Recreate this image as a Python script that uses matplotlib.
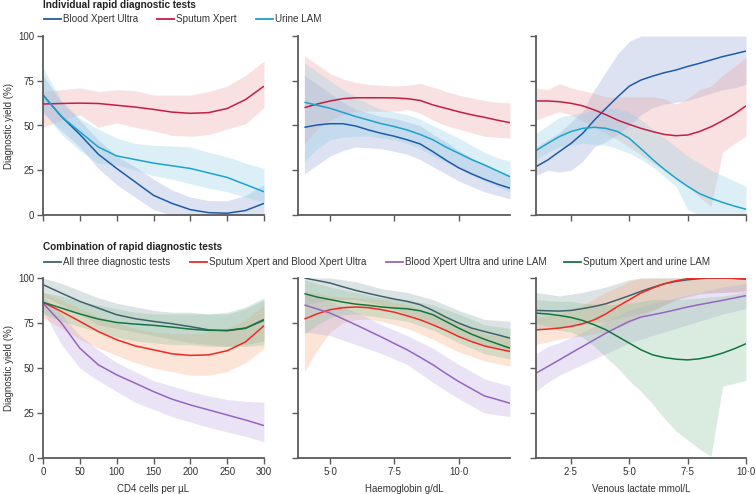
import matplotlib
matplotlib.use("Agg")
import matplotlib.pyplot as plt
from matplotlib.lines import Line2D

plt.rcParams["font.family"] = ["Liberation Sans Narrow", "Liberation Sans", "DejaVu Sans"]

# ---- data ---------------------------------------------------------------
# x grids
cd4 = [0, 25, 50, 75, 100, 125, 150, 175, 200, 225, 250, 275, 300]
hb = [4, 4.5, 5, 5.5, 6, 6.5, 7, 7.5, 8, 8.5, 9, 9.5, 10, 10.5, 11, 11.5, 12]
lac = [1, 1.5, 2, 2.5, 3, 3.5, 4, 4.5, 5, 5.5, 6, 6.5, 7, 7.5, 8, 8.5, 9, 9.5, 10]

# individual tests vs CD4
blood_cd4 = [67, 55, 45, 34, 26, 18.5, 11, 6.5, 3, 1.3, 1, 2.5, 6.5]
blood_cd4_lo = [57, 47, 38, 26, 17, 10, 3, 0, 0, 0, 0, 0, 0]
blood_cd4_hi = [78, 63, 53, 42, 33, 27, 20, 14, 10, 8, 8, 11, 17]
sputum_cd4 = [62, 62.3, 62.5, 62.3, 61.3, 60.3, 59, 57.5, 56.8, 57.2, 59.5, 64.5, 72]
sputum_cd4_lo = [49, 53, 56, 49, 51.5, 49, 47, 44.5, 44, 45, 48, 51, 60]
sputum_cd4_hi = [69, 70, 71, 69, 70, 69.5, 67, 67, 67, 69, 72, 78, 86]
urine_cd4 = [67, 55, 46.5, 38, 33, 31, 29, 27.5, 26, 23.5, 21, 17, 13]
urine_cd4_lo = [58, 45, 36, 29, 28, 25, 22, 20, 17.5, 15, 13, 10, 7]
urine_cd4_hi = [82, 64, 54, 48, 43, 40, 39, 38.5, 38, 35, 32.5, 29, 26]

# individual tests vs haemoglobin
blood_hb = [49, 50.3, 51, 51, 49.7, 47.5, 45.6, 44, 42, 39.7, 35.4, 30.7, 26.4, 23, 20, 17.3, 15]
blood_hb_lo = [23, 28, 33, 36, 38, 37.5, 37, 35.5, 34, 31, 27, 23, 19, 16, 13, 11, 9]
blood_hb_hi = [78, 73, 68, 63, 59, 57, 55, 54, 52, 50, 45, 41, 36, 32, 28, 25, 22]
sputum_hb = [60, 62, 63.7, 65, 65.5, 65.5, 65.5, 65.4, 65, 64, 61.5, 59.6, 57.7, 56, 54.6, 53, 51.6]
sputum_hb_lo = [40, 48, 53, 56, 58, 58, 58, 58, 59, 57, 53, 50, 48, 46, 44, 43.5, 43]
sputum_hb_hi = [89, 84, 79, 76, 74, 73, 72.5, 72, 72.5, 73.5, 71.5, 69, 67, 65.5, 64, 63, 62.7]
urine_hb = [63, 61.3, 59.6, 57.3, 55, 53, 51, 49.4, 47.5, 45, 42, 38, 34.5, 31, 28, 24.7, 21.4]
urine_hb_lo = [30, 37, 42, 43.5, 44, 44, 43, 42, 40, 37, 33, 29.5, 26, 22.5, 19, 16, 13]
urine_hb_hi = [85, 80, 75, 70, 66, 62, 59, 57.5, 56, 53.5, 50, 46.5, 43, 39, 35, 32, 30]

# individual tests vs venous lactate
blood_lac = [27, 30.7, 35.4, 40, 45.6, 53, 59.6, 66, 72, 75.4, 77.6, 79.5, 81, 83, 84.7, 86.6, 88.5, 90, 91.6]
blood_lac_lo = [22, 25, 24, 25, 30, 38, 41, 45, 50, 56, 60, 62, 63, 64, 66, 68, 70, 71, 73]
blood_lac_hi = [38, 42, 46, 52, 58, 70, 80, 90, 97, 100, 100, 100, 100, 100, 100, 100, 100, 100, 100]
sputum_lac = [63.7, 63.7, 63.3, 62.4, 61, 58.7, 56, 53, 50.6, 48.4, 46.6, 45, 44.3, 44.7, 46.6, 49.3, 52.7, 56.4, 61]
sputum_lac_lo = [53, 55.5, 57.7, 56, 52.5, 49, 45.5, 42, 38, 33.5, 29, 25, 20.5, 15.8, 10, 4.7, 35, 40, 44]
sputum_lac_hi = [71, 70, 73.5, 71, 69.5, 68, 66, 66, 66, 66, 66, 65, 62, 65, 70, 72, 78, 83, 88]
urine_lac = [36, 40, 43.8, 46.6, 48.4, 49, 48.4, 46.6, 42.8, 37, 31, 25.5, 20.5, 16, 12, 9.3, 7, 5, 3.2]
urine_lac_lo = [31, 35, 38, 39, 40, 39.5, 39, 37, 34.5, 31, 27, 21.5, 16, 3, 0, 0, 0, 0, 0]
urine_lac_hi = [45.6, 50, 54.6, 56, 57, 59, 60, 59.5, 57.5, 53, 48, 43, 38, 33, 29, 25, 22, 19, 16]

# combinations vs CD4
all3_cd4 = [96.3, 91.6, 87, 83.3, 79.6, 77.4, 75.9, 74.6, 73, 71.2, 70.7, 72, 77]
all3_cd4_lo = [90, 85, 80, 74, 72, 70, 68, 66, 64, 63, 62, 63, 65]
all3_cd4_hi = [100, 97, 93, 89, 86, 84, 82, 81, 81, 80, 80, 83, 88]
spbl_cd4 = [86.5, 81.4, 75.9, 70.3, 65.7, 62.3, 60.1, 57.9, 57, 57.3, 59.6, 64.5, 73.5]
spbl_cd4_lo = [78, 72, 66, 61, 57, 53, 50, 48, 46, 46, 48, 53, 61]
spbl_cd4_hi = [92, 88, 83, 79, 75, 72, 70, 69, 69, 70, 72, 77, 85]
blur_cd4 = [86, 75, 61, 51.8, 46.2, 41.6, 36.9, 32.7, 29.5, 26.7, 23.9, 21.1, 18]
blur_cd4_lo = [82, 63, 50, 43, 37, 31, 27, 23, 20, 17, 14.5, 12, 9]
blur_cd4_hi = [90, 80, 68, 60, 53, 48, 43, 40, 37, 34.5, 32.5, 31.5, 31]
spur_cd4 = [86.5, 83.3, 80, 77.2, 75.3, 74.4, 73.7, 72.7, 71.6, 70.9, 70.9, 72.2, 76.5]
spur_cd4_lo = [80, 76, 73, 70, 67, 65, 64, 63, 63, 62, 62, 62, 63]
spur_cd4_hi = [92, 90, 87, 85, 83, 81, 80, 80, 80, 80, 81, 84, 89]

# combinations vs haemoglobin
all3_hb = [100, 98.6, 97.2, 95.1, 93.1, 91.4, 89.8, 88.3, 87, 85.2, 82, 78.3, 75, 72.2, 70.3, 68.5, 66.6]
all3_hb_lo = [85, 86.5, 88, 88, 88, 86.5, 85, 82.5, 80, 77.5, 75, 71.5, 68, 65.5, 63, 61.5, 60]
all3_hb_hi = [100, 100, 100, 99, 98, 96, 94, 93, 92, 90, 88, 85, 82, 79.5, 77, 76.5, 76]
spbl_hb = [77.2, 80.1, 82.4, 83.5, 83.9, 83.5, 82.4, 81, 79, 76.8, 74, 70.9, 67.5, 64.7, 62.3, 60.7, 59.2]
spbl_hb_lo = [48, 60, 70, 75, 77, 77, 76, 74, 72, 69, 66, 62.5, 59, 56.5, 54, 52.5, 51]
spbl_hb_hi = [93, 91.5, 90, 89.5, 89, 88.5, 88, 86.5, 85, 83, 81, 78, 75, 72, 69, 68, 67]
blur_hb = [85, 82.8, 80.5, 77.3, 74, 70.6, 67.2, 63.6, 60.1, 56, 51.8, 47, 42.5, 38.5, 34.5, 32.5, 30.4]
blur_hb_lo = [70, 69, 68, 65.5, 63, 60.5, 58, 55, 52, 47, 42, 37.5, 33, 29, 25, 24, 23]
blur_hb_hi = [91, 89, 87, 84, 81, 77.5, 74, 71, 68, 64.5, 61, 56.5, 52, 48, 44, 42, 40]
spur_hb = [91.3, 89.4, 88, 86.6, 85.5, 84.8, 83.9, 83.3, 82.9, 81.8, 79.6, 75.9, 72.2, 68.8, 66, 63.5, 61]
spur_hb_lo = [69, 74, 78, 79.5, 80, 79, 78, 77, 76, 73.5, 71, 67.5, 64, 61, 58, 56.5, 55]
spur_hb_hi = [99, 97, 95, 93.5, 92, 90.5, 89, 88.5, 88, 86.5, 85, 82.5, 80, 77, 74, 73, 72]

# combinations vs venous lactate
all3_lac = [82, 81.8, 81.6, 82, 83, 84.2, 85.7, 87.9, 90.2, 92.6, 94.8, 96.8, 98.1, 99, 99.6, 100, 100, 99.8, 99.4]
all3_lac_lo = [72, 72, 72, 73, 74, 75, 76, 77.5, 79, 80.5, 82, 85, 88, 89.5, 91, 91.5, 92, 92.5, 93]
all3_lac_hi = [92, 91, 90, 91, 92, 93.5, 95, 97, 99, 100, 100, 100, 100, 100, 100, 100, 100, 100, 100]
spbl_lac = [71.2, 71.6, 72.2, 73.1, 74.6, 76.8, 80.1, 84.2, 87.9, 91.7, 94.4, 96.8, 98.5, 99.6, 100, 100, 100, 99.8, 99.4]
spbl_lac_lo = [63, 64.5, 66, 67, 68, 69, 70, 72.5, 75, 78.5, 82, 85, 88, 90, 92, 92, 92, 92, 92]
spbl_lac_hi = [78, 79, 80, 82.5, 85, 88.5, 92, 95, 98, 100, 100, 100, 100, 100, 100, 100, 100, 100, 100]
blur_lac = [47.1, 50.8, 54.5, 58.3, 62, 65.7, 69.4, 72.7, 75.9, 78.3, 79.6, 80.9, 82.4, 83.9, 85.2, 86.4, 87.6, 88.9, 90.2]
blur_lac_lo = [37, 42, 46, 49, 52, 55, 58, 61, 64, 66, 68, 70, 72, 74, 76, 78, 80, 81.5, 83]
blur_lac_hi = [58, 62, 64, 67, 70, 73, 76, 79, 82, 84, 86, 87.5, 89, 90.5, 92, 93.5, 95, 96, 97]
spur_lac = [80.5, 80, 79.2, 78.1, 76.4, 74, 71.2, 67.5, 63.8, 60.1, 57.3, 55.8, 54.9, 54.5, 55.1, 56.4, 58.3, 60.7, 63.5]
spur_lac_lo = [75, 73, 71, 70, 67, 62, 56, 50, 43, 37, 30, 22, 15, 10, 5, 1, 40, 41.5, 43]
spur_lac_hi = [88, 87.5, 87, 87, 86, 85.5, 85, 85.5, 86, 87, 88, 88, 88, 88.5, 89, 89.5, 90, 91, 92]

x_ticks_cd4 = [0, 50, 100, 150, 200, 250, 300]
x_ticks_hb = [5, 7.5, 10]
x_ticks_lac = [2.5, 5, 7.5, 10]
y_ticks = [0, 25, 50, 75, 100]

# ---- styling ---------------------------------------------------------------
W, H = 756, 494
C_BLOOD, C_SPUT, C_URINE = "#1f5ba8", "#c41e45", "#1aa3cc"
B_BLOOD, B_SPUT, B_URINE = "#95a5d8", "#eba3a0", "#93cfe8"
C_ALL3, C_SPBL, C_BLUR, C_SPUR = "#41616e", "#ee2a24", "#9466c0", "#12773f"
B_ALL3, B_SPBL, B_BLUR, B_SPUR = "#93a9ad", "#f7ab80", "#bbaae0", "#8cc39d"
SPINE = "#5a5a5a"
TXT = "#333333"


def px(x0, y0, x1, y1):
    """pixel box (left, top, right, bottom) -> figure fraction rect."""
    return [x0 / W, 1 - y1 / H, (x1 - x0) / W, (y1 - y0) / H]


def fmt(v):
    return f"{v:.1f}".replace(".", "\u00b7")


def style(ax, xlim, xticks, show_xlabels, show_ylabels, int_ticks=False):
    ax.set_xlim(*xlim)
    ax.set_ylim(0, 100)
    for s in ("top", "right"):
        ax.spines[s].set_visible(False)
    for s in ("left", "bottom"):
        ax.spines[s].set_color(SPINE)
        ax.spines[s].set_linewidth(1.3)
    ax.set_xticks(xticks)
    ax.set_yticks(y_ticks)
    ax.tick_params(direction="out", length=4.5, width=1.0, color=SPINE,
                   labelsize=7, labelcolor=TXT, pad=2)
    if show_xlabels:
        ax.set_xticklabels([str(t) if int_ticks else fmt(t) for t in xticks])
    else:
        ax.set_xticklabels([])
    if not show_ylabels:
        ax.set_yticklabels([])
    ax.patch.set_alpha(0)


def draw(ax, x, series):
    for _, _, lo, hi, band in series:
        ax.fill_between(x, lo, hi, color=band, alpha=0.32, lw=0)
    for y, col, _, _, _ in series:
        ax.plot(x, y, color=col, lw=1.1, solid_capstyle="butt")


fig = plt.figure(figsize=(W / 100, H / 100), dpi=100)

cols = [(43, 264), (298, 510), (536, 746)]
rows = [(36, 215), (278, 458)]
xlims = [(0, 300), (3.75, 12), (1, 10)]
xs = [cd4, hb, lac]
xticks = [x_ticks_cd4, x_ticks_hb, x_ticks_lac]

top = [
    [(blood_cd4, C_BLOOD, blood_cd4_lo, blood_cd4_hi, B_BLOOD),
     (sputum_cd4, C_SPUT, sputum_cd4_lo, sputum_cd4_hi, B_SPUT),
     (urine_cd4, C_URINE, urine_cd4_lo, urine_cd4_hi, B_URINE)],
    [(blood_hb, C_BLOOD, blood_hb_lo, blood_hb_hi, B_BLOOD),
     (sputum_hb, C_SPUT, sputum_hb_lo, sputum_hb_hi, B_SPUT),
     (urine_hb, C_URINE, urine_hb_lo, urine_hb_hi, B_URINE)],
    [(blood_lac, C_BLOOD, blood_lac_lo, blood_lac_hi, B_BLOOD),
     (sputum_lac, C_SPUT, sputum_lac_lo, sputum_lac_hi, B_SPUT),
     (urine_lac, C_URINE, urine_lac_lo, urine_lac_hi, B_URINE)],
]
bottom = [
    [(all3_cd4, C_ALL3, all3_cd4_lo, all3_cd4_hi, B_ALL3),
     (spbl_cd4, C_SPBL, spbl_cd4_lo, spbl_cd4_hi, B_SPBL),
     (blur_cd4, C_BLUR, blur_cd4_lo, blur_cd4_hi, B_BLUR),
     (spur_cd4, C_SPUR, spur_cd4_lo, spur_cd4_hi, B_SPUR)],
    [(all3_hb, C_ALL3, all3_hb_lo, all3_hb_hi, B_ALL3),
     (spbl_hb, C_SPBL, spbl_hb_lo, spbl_hb_hi, B_SPBL),
     (blur_hb, C_BLUR, blur_hb_lo, blur_hb_hi, B_BLUR),
     (spur_hb, C_SPUR, spur_hb_lo, spur_hb_hi, B_SPUR)],
    [(all3_lac, C_ALL3, all3_lac_lo, all3_lac_hi, B_ALL3),
     (spbl_lac, C_SPBL, spbl_lac_lo, spbl_lac_hi, B_SPBL),
     (blur_lac, C_BLUR, blur_lac_lo, blur_lac_hi, B_BLUR),
     (spur_lac, C_SPUR, spur_lac_lo, spur_lac_hi, B_SPUR)],
]
xlabels = ["CD4 cells per \u00b5L", "Haemoglobin g/dL", "Venous lactate mmol/L"]

for r, (y0, y1) in enumerate(rows):
    data = top if r == 0 else bottom
    for c, (x0, x1) in enumerate(cols):
        ax = fig.add_axes(px(x0, y0, x1, y1))
        draw(ax, xs[c], data[c])
        style(ax, xlims[c], xticks[c], show_xlabels=(r == 1),
              show_ylabels=(c == 0), int_ticks=(c == 0))
        if c == 0:
            ax.set_ylabel("Diagnostic yield (%)", fontsize=7, color=TXT, labelpad=3)
        if r == 1:
            ax.set_xlabel(xlabels[c], fontsize=7, color=TXT, labelpad=5)


def header(ypx_title, ypx_leg, title, items):
    fig.text(43 / W, 1 - ypx_title / H, title, fontsize=7.2, fontweight="bold",
             color="#222222", va="baseline", ha="left")
    for x_line, label, col in items:
        yf = 1 - ypx_leg / H
        fig.add_artist(Line2D([x_line / W, (x_line + 17) / W], [yf, yf],
                              color=col, lw=1.3))
        fig.text((x_line + 19) / W, yf, label, fontsize=7.1, color=TXT,
                 va="center", ha="left")


header(8.5, 19.5, "Individual rapid diagnostic tests",
       [(44, "Blood Xpert Ultra", C_BLOOD),
        (157, "Sputum Xpert", C_SPUT),
        (256, "Urine LAM", C_URINE)])
header(249.5, 262, "Combination of rapid diagnostic tests",
       [(44, "All three diagnostic tests", C_ALL3),
        (190, "Sputum Xpert and Blood Xpert Ultra", C_SPBL),
        (386, "Blood Xpert Ultra and urine LAM", C_BLUR),
        (564, "Sputum Xpert and urine LAM", C_SPUR)])

fig.savefig("out.png", dpi=100)
